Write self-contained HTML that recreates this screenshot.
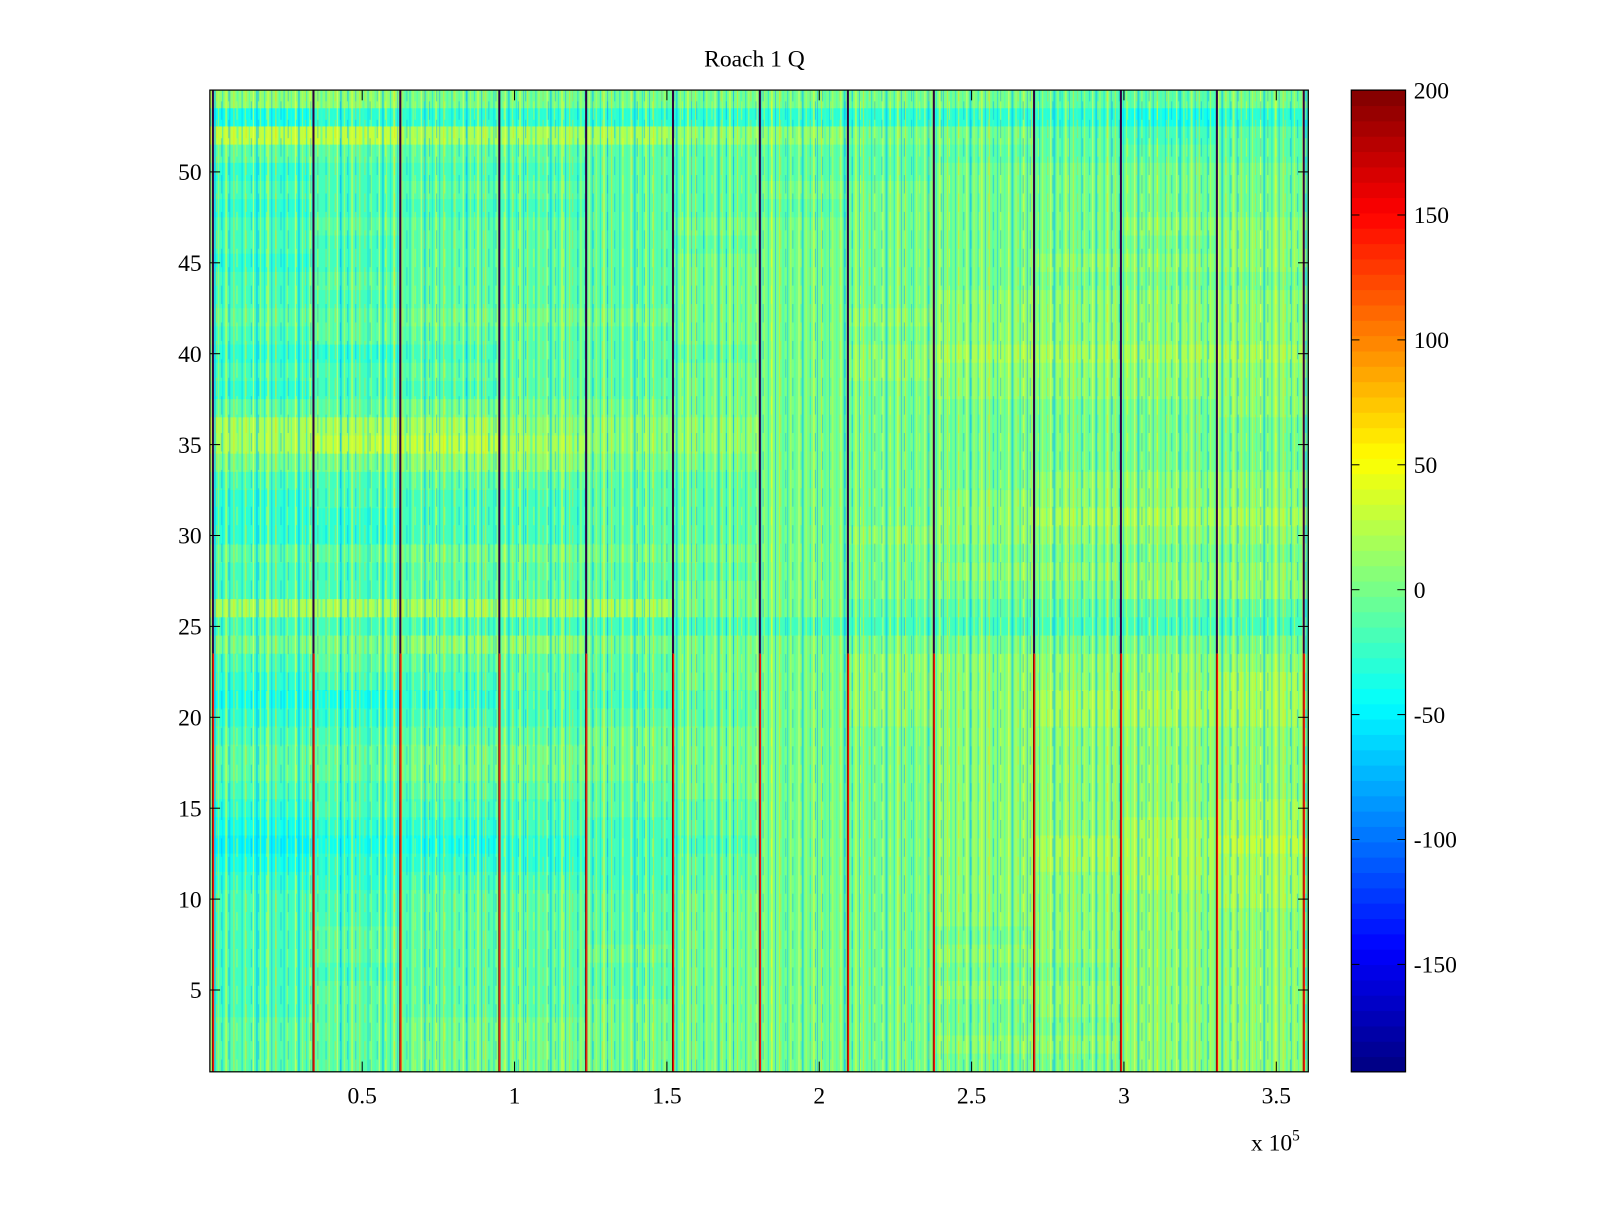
<!DOCTYPE html>
<html><head><meta charset="utf-8"><style>
body{margin:0;background:#fff;}
svg text{font-family:"Liberation Serif",serif;font-size:23px;fill:#000;}
</style></head><body>
<svg width="1600" height="1200" xmlns="http://www.w3.org/2000/svg">
<defs>
<pattern id="tex" x="205" y="0" width="41" height="18" patternUnits="userSpaceOnUse">
<rect x="1" y="0" width="1" height="18" fill="#ffff40" opacity="0.65"/>
<rect x="4" y="0" width="2" height="18" fill="#00c0ff" opacity="0.6"/>
<rect x="8" y="0" width="1" height="18" fill="#c0ff40" opacity="0.7"/>
<rect x="12" y="0" width="1" height="18" fill="#00e0ff" opacity="0.65"/>
<rect x="15" y="0" width="2" height="18" fill="#e0ff30" opacity="0.6"/>
<rect x="19" y="0" width="1" height="18" fill="#20a0ff" opacity="0.55"/>
<rect x="23" y="0" width="1" height="18" fill="#ffe000" opacity="0.55"/>
<rect x="26" y="0" width="2" height="18" fill="#40ffc0" opacity="0.6"/>
<rect x="31" y="0" width="1" height="18" fill="#00d0ff" opacity="0.65"/>
<rect x="34" y="0" width="1" height="18" fill="#d0ff30" opacity="0.65"/>
<rect x="38" y="0" width="1" height="18" fill="#30ffd0" opacity="0.6"/>
</pattern>
<pattern id="tex2" x="220" y="9" width="29" height="36" patternUnits="userSpaceOnUse">
<rect x="3" y="0" width="1" height="18" fill="#00b0ff" opacity="0.5"/>
<rect x="11" y="18" width="1" height="18" fill="#ffff00" opacity="0.45"/>
<rect x="20" y="0" width="1" height="18" fill="#ffd000" opacity="0.4"/>
<rect x="25" y="18" width="1" height="18" fill="#00a0ff" opacity="0.45"/>
</pattern>
</defs>
<g transform="scale(1.0237)">
<g id="heat"></g>
<rect x="205" y="88" width="1073" height="959" fill="url(#tex)"/>
<rect x="205" y="88" width="1073" height="959" fill="url(#tex2)"/>
<g id="vlines"></g>
<rect x="205" y="88" width="1073" height="959" fill="none" stroke="#000" stroke-width="1.2"/>
<g id="axes"></g>
<text x="737" y="65" text-anchor="middle">Roach 1 Q</text>
<text x="1222" y="1124">x 10<tspan dy="-10" font-size="15">5</tspan></text>
<g id="cbar"></g>
</g>
</svg>
<script>
const rowLevels = [ // row 54 (top) down to row 1, 12 segments each
"776666666556","233333333323","998887766545","555555555555","344455556666",
"445555666666","344455566666","455556666677","445555666667","345556666777",
"455556666666","445556667777","556666677777","455556667777","334555678888",
"445556677777","344556667777","556666666667","888777666666","899877666666",
"667766666666","445555666777","344455667777","334455667888","334455677777",
"556666666666","445555667777","445556666677","888886655555","444444444444",
"667766666666","455556677777","344556677778","223445677888","334455677888",
"445566667777","556666667777","556666667777","445556667777","344455667778",
"233445667788","122344667889","233345667888","334445667788","445556667778",
"445556667777","455556666777","455566667777","445556666677","455556667777",
"455566666777","556666666677","556666667777","556666666677"];
const segEdges = [0,0.34,0.625,0.95,1.235,1.52,1.805,2.094,2.376,2.705,2.99,3.305,3.605];
const lineX = [0.01,0.34,0.625,0.95,1.235,1.52,1.805,2.094,2.376,2.705,2.99,3.305,3.59];
const xTicks = [0.5,1,1.5,2,2.5,3,3.5];
const xTickLabels = ["0.5","1","1.5","2","2.5","3","3.5"];
const yTicks = [5,10,15,20,25,30,35,40,45,50];
const cTicks = [200,150,100,50,0,-50,-100,-150];
const cMin=-193, cMax=200;
const NS="http://www.w3.org/2000/svg";
const L=205,R=1278,T=88,B=1047;
const xs=v=>L+(v-0)/3.605*(R-L);
const ys=v=>T+(54.5-v)/54*(B-T);
function jet(t){const c=x=>Math.max(0,Math.min(1,x));
 const r=c(1.5-Math.abs(4*t-3)),g=c(1.5-Math.abs(4*t-2)),b=c(1.5-Math.abs(4*t-1));
 return `rgb(${Math.round(r*255)},${Math.round(g*255)},${Math.round(b*255)})`;}
const valOf=d=>-60+d*10;
function mk(tag,at,parent){const e=document.createElementNS(NS,tag);for(const k in at)e.setAttribute(k,at[k]);parent.appendChild(e);return e;}
const heat=document.getElementById('heat');
rowLevels.forEach((s,i)=>{const row=54-i;
 for(let j=0;j<12;j++){const v=valOf(+s[j]);
  const e=mk('rect',{x:xs(segEdges[j]),y:ys(row+0.5),width:xs(segEdges[j+1])-xs(segEdges[j])+0.5,height:ys(row-0.5)-ys(row+0.5)+0.5,fill:jet((v-cMin)/(cMax-cMin))},heat);
  
  
 }});
const vl=document.getElementById('vlines');
lineX.forEach(v=>{const x=xs(v);
 const a=mk('rect',{x:x-1,y:T,width:2,height:ys(23.5)-T,fill:'#300040'},vl);
 
 
 const b=mk('rect',{x:x-1,y:ys(23.5),width:1,height:B-ys(23.5),fill:'#800000'},vl);
 
 
 const c=mk('rect',{x:x,y:ys(23.5),width:1.2,height:B-ys(23.5),fill:'#ff1000'},vl);
 
 
});
const ax=document.getElementById('axes');
xTicks.forEach((v,i)=>{const x=xs(v);
 mk('line',{x1:x,x2:x,y1:B,y2:B-10,stroke:'#000'},ax);
 mk('line',{x1:x,x2:x,y1:T,y2:T+10,stroke:'#000'},ax);
 const t=mk('text',{x:x,y:B+31,'text-anchor':'middle'},ax);t.textContent=xTickLabels[i];
 
 
});
yTicks.forEach(v=>{const y=ys(v);
 mk('line',{x1:L,x2:L+10,y1:y,y2:y,stroke:'#000'},ax);
 mk('line',{x1:R,x2:R-10,y1:y,y2:y,stroke:'#000'},ax);
 const t=mk('text',{x:L-8,y:y+8,'text-anchor':'end'},ax);t.textContent=v;
 
 
});
const cb=document.getElementById('cbar');
const CL=1320,CR=1373,N=64;
for(let k=0;k<N;k++){const y0=B-(k+1)*(B-T)/N;
 const e=mk('rect',{x:CL,y:y0,width:CR-CL,height:(B-T)/N+0.6,fill:jet((k+0.5)/N)},cb);
 
 }
mk('rect',{x:CL,y:T,width:CR-CL,height:B-T,fill:'none',stroke:'#000','stroke-width':1.2},cb);
const cy=v=>B-(v-cMin)/(cMax-cMin)*(B-T);
cTicks.forEach(v=>{const y=cy(v);
 mk('line',{x1:CL,x2:CL+8,y1:y,y2:y,stroke:'#000'},cb);
 mk('line',{x1:CR,x2:CR-8,y1:y,y2:y,stroke:'#000'},cb);
 const t=mk('text',{x:CR+8,y:y+8},cb);t.textContent=v;
 
 
});
</script>
</body></html>
